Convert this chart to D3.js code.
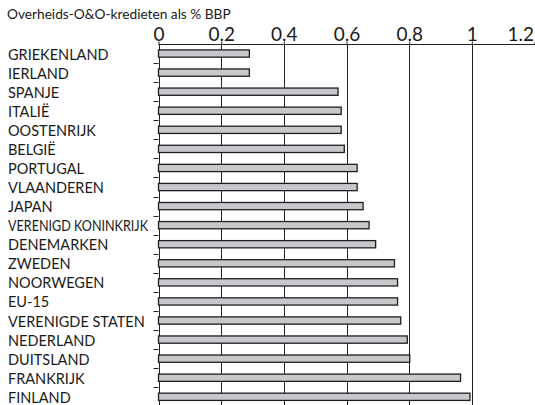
<!DOCTYPE html>
<html>
<head>
<meta charset="utf-8">
<script src="https://cdn.jsdelivr.net/npm/d3@7"></script>
<style>
  body { margin: 0; background: #fff; }
  svg { display: block; }
  text { font-family: Lato, 'Noto Sans', sans-serif; fill: #1a1a1a; }
</style>
</head>
<body>
<svg id="chart" width="535" height="405"></svg>
<script>
const countries = ['GRIEKENLAND', 'IERLAND', 'SPANJE', 'ITALIË', 'OOSTENRIJK', 'BELGIË', 'PORTUGAL',
  'VLAANDEREN', 'JAPAN', 'VERENIGD KONINKRIJK', 'DENEMARKEN', 'ZWEDEN', 'NOORWEGEN', 'EU-15',
  'VERENIGDE STATEN', 'NEDERLAND', 'DUITSLAND', 'FRANKRIJK', 'FINLAND']
const credits = [0.29, 0.29, 0.573, 0.583, 0.583, 0.593, 0.634,
  0.634, 0.653, 0.672, 0.693, 0.753, 0.763, 0.763,
  0.773, 0.794, 0.802, 0.964, 0.994]
const tickValues = [0, 0.2, 0.4, 0.6, 0.8, 1, 1.2]
const title = 'Overheids-O&O-kredieten als % BBP'

const svg = d3.select('#chart')
const plotTop = 44
const x = d3.scaleLinear().domain([0, 1.2]).range([158.5, 534.5])
const y = d3.scaleBand().domain(countries)
  .range([plotTop, plotTop + 19.07 * countries.length]).paddingInner(0.62).paddingOuter(0.31)

svg.append('text')
  .attr('x', 7).attr('y', 19)
  .style('font-size', '13.7px')
  .text(title)

// gridlines
svg.append('g').selectAll('line')
  .data(tickValues.slice(1))
  .enter().append('line')
  .attr('x1', d => Math.round(x(d)) + 0.5).attr('x2', d => Math.round(x(d)) + 0.5)
  .attr('y1', plotTop).attr('y2', 405)
  .attr('stroke', '#222').attr('stroke-width', 1)

// top axis
const axis = svg.append('g')
  .attr('transform', `translate(0,${plotTop + 0.5})`)
  .call(d3.axisTop(x).tickValues(tickValues).tickFormat(d3.format('~g'))
    .tickSizeInner(3).tickSizeOuter(0).tickPadding(1))
axis.select('.domain').attr('stroke', '#222').attr('d', `M${x(0)},0H535`)
axis.selectAll('.tick line').attr('stroke', '#222')
axis.selectAll('.tick text')
  .style('font-size', '19px').style('font-family', 'Lato, sans-serif').attr('fill', '#1a1a1a')
// last label sits flush with the right edge
axis.selectAll('.tick text').filter(d => d === 1.2)
  .attr('text-anchor', 'end').attr('x', -1)

// left axis line and ticks between categories
svg.append('line')
  .attr('x1', Math.round(x(0)) + 0.5).attr('x2', Math.round(x(0)) + 0.5)
  .attr('y1', plotTop).attr('y2', 405)
  .attr('stroke', '#222')
svg.append('g').selectAll('line')
  .data(countries.slice(1))
  .enter().append('line')
  .attr('x1', x(0) - 5).attr('x2', x(0))
  .attr('y1', d => Math.round(y(d) - y.step() * y.paddingInner() / 2) + 0.5)
  .attr('y2', d => Math.round(y(d) - y.step() * y.paddingInner() / 2) + 0.5)
  .attr('stroke', '#222')

// bars
svg.append('g').selectAll('rect')
  .data(countries)
  .enter().append('rect')
  .attr('x', x(0))
  .attr('y', d => y(d))
  .attr('width', (d, i) => x(credits[i]) - x(0))
  .attr('height', y.bandwidth())
  .attr('fill', '#c7c8cc')
  .attr('stroke', '#1e1e1e')
  .attr('stroke-width', 1.3)

// category labels
svg.append('g').selectAll('text')
  .data(countries)
  .enter().append('text')
  .attr('x', 8)
  .attr('y', d => y(d) + y.bandwidth() / 2 + 6)
  .style('font-size', '14.5px')
  .text(d => d)
  .each(function () {
    if (this.getComputedTextLength() > 140) {
      d3.select(this).attr('textLength', 140).attr('lengthAdjust', 'spacingAndGlyphs')
    }
  })
</script>
</body>
</html>
